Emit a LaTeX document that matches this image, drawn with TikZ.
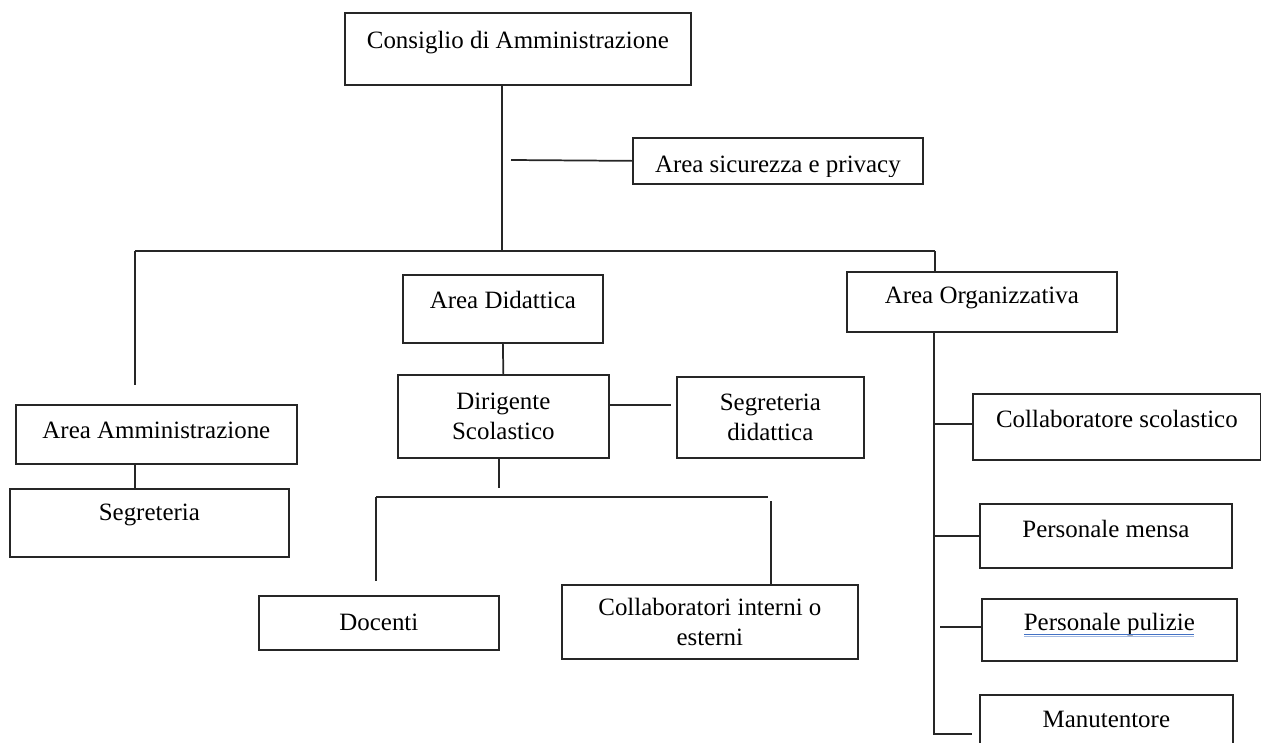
\documentclass[tikz,border=0pt]{standalone}
\usepackage{fontspec}
\setmainfont{Liberation Serif}
\usetikzlibrary{calc}

\tikzset{every picture/.style={line width=0.75pt}}
\tikzset{
  orgbox/.style 2 args={draw=black!85, line width=1.3pt, anchor=north west, inner sep=0pt,
    align=center, minimum width=#1*0.75pt, minimum height=#2*0.75pt,
    font=\fontsize{18.7}{22.5}\selectfont},
  orgline/.style={draw=black!85, line width=1.3pt},
  spellmark/.style={draw={rgb, 255:red, 68; green, 114; blue, 196}, line width=0.6pt}
}

\begin{document}
\begin{tikzpicture}[x=0.75pt,y=0.75pt,yscale=-1,xscale=1]
\useasboundingbox (0,0) rectangle (1261,743);

%Shape: Rectangle [top]
\node [orgbox={346}{72}, text height=13pt, text depth=13pt] (cda) at (344,12) {Consiglio di Amministrazione};
%Shape: Rectangle
\node [orgbox={290}{46}, text height=18pt, text depth=0pt] (asp) at (632,137) {Area sicurezza e privacy};
%cut descenders
\fill [white] ($(asp.south west)+(3,-8)$) rectangle ($(asp.south east)+(-3,-1.8)$);

%Shape: Rectangle [left column]
\node [orgbox={281}{59}, text height=13pt, text depth=6.25pt] (aam) at (15,404) {Area Amministrazione};
\node [orgbox={279}{68}, text height=13pt, text depth=16pt] (seg) at (9,488) {Segreteria};

%Shape: Rectangle [middle column]
\node [orgbox={200}{68}, text height=13pt, text depth=13pt] (adi) at (402,274) {Area Didattica};
\node [orgbox={211}{83}] (dir) at (397,374) {Dirigente\\Scolastico};
\node [orgbox={187}{81}] (sdi) at (676,376) {Segreteria\\didattica};
\node [orgbox={240}{54}, text height=13pt, text depth=1pt] (doc) at (258,595) {Docenti};
\node [orgbox={296}{74}] (col) at (561,584) {Collaboratori interni o\\esterni};

%Shape: Rectangle [right column]
\node [orgbox={270}{60}, text height=13pt, text depth=10pt] (aor) at (846,271) {Area Organizzativa};
\node [orgbox={288}{66}, text height=13pt, text depth=11.5pt] (csc) at (972,393) {Collaboratore scolastico};
\node [orgbox={252}{64}, text height=13pt, text depth=10pt] (pme) at (979,503) {Personale mensa};
\node [orgbox={255}{62}, text height=13pt, text depth=11.5pt] (ppu) at (981,598) {Personale pulizie};
\node [orgbox={253}{64}, text height=13pt, text depth=11.5pt] (man) at (979,694) {Manutentore};

%underline under Personale pulizie
\draw [spellmark] ($(ppu.base)+(-85,4)$) -- ($(ppu.base)+(85,4)$);
\draw [spellmark, opacity=0.5] ($(ppu.base)+(-85,6)$) -- ($(ppu.base)+(85,6)$);

%Coordinates
\coordinate (trunk) at (502,251);
\coordinate (busw) at (135,251);
\coordinate (buse) at (935,251);
\coordinate (aamup) at (135,385);
\coordinate (aspst) at (511,160);
\coordinate (dirdn) at (499,488);
\coordinate (bus2w) at (376,497);
\coordinate (bus2e) at (768,497);
\coordinate (docup) at (376,581);
\coordinate (colup) at (771,501);
\coordinate (orgdn) at (934,735);
\coordinate (dse) at ($(dir.east)+(0,-11.5)$);
\coordinate (cscw) at ($(csc.west)+(0,-3)$);
\coordinate (ppuw) at ($(ppu.west)+(0,-3)$);
\coordinate (manw) at ($(man.west)+(0,7)$);

%Straight Lines
\draw [orgline] (cda.south -| trunk) -- (trunk);
\draw [orgline] (aspst) -- (asp.west);
\draw [orgline] (busw) -- (buse);
\draw [orgline] (busw) -- (aamup);
\draw [orgline] (buse) -- (aor.north -| buse);
\draw [orgline] (aam.south -| busw) -- (seg.north -| busw);
%Straight Lines [didattica]
\draw [orgline] (adi.south) -- (dir.north);
\draw [orgline, shorten >=3.5pt] (dse) -- (dse -| sdi.west);
\draw [orgline] (dir.south -| dirdn) -- (dirdn);
\draw [orgline] (bus2w) -- (bus2e);
\draw [orgline] (bus2w) -- (docup);
\draw [orgline] (colup) -- (col.north -| colup);
%Straight Lines [organizzativa]
\draw [orgline] (aor.south -| orgdn) -- (orgdn);
\draw [orgline] (cscw -| orgdn) -- (cscw);
\draw [orgline] (pme.west -| orgdn) -- (pme.west);
\draw [orgline, shorten <=4.5pt] (ppuw -| orgdn) -- (ppuw);
\draw [orgline, shorten >=5pt] (manw -| orgdn) -- (manw);

\end{tikzpicture}
\end{document}
